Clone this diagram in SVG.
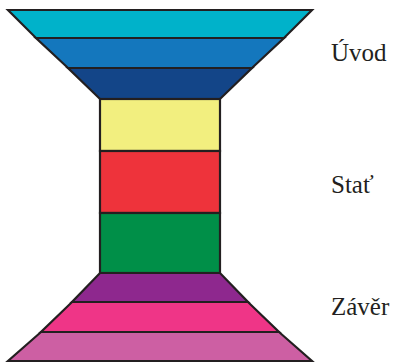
<svg xmlns="http://www.w3.org/2000/svg" width="399" height="362" viewBox="0 0 399 362">
<style>
.s{stroke:#231f20;stroke-width:2.2;stroke-linejoin:miter}
.t{font-family:"Liberation Serif","DejaVu Serif",serif;font-size:25px;fill:#231f20}
</style>
<rect width="399" height="362" fill="#ffffff"/>
<g id="uvod">
<polygon class="s" fill="#00b2ca" points="8,10 312,10 284,38 36,38"/>
<polygon class="s" fill="#1477bd" points="36,38 284,38 252,68 68,68"/>
<polygon class="s" fill="#134588" points="68,68 252,68 220,99 100,99"/>
<text class="t" x="331" y="61">Úvod</text>
</g>
<g id="stat">
<rect class="s" fill="#f2ef7f" x="100" y="99" width="120" height="52"/>
<rect class="s" fill="#ee333b" x="100" y="151" width="120" height="62"/>
<rect class="s" fill="#008f48" x="100" y="213" width="120" height="60"/>
<text class="t" x="331" y="193">Stať</text>
</g>
<g id="zaver">
<polygon class="s" fill="#8e288e" points="100,273 220,273 248,302 72,302"/>
<polygon class="s" fill="#ef3587" points="72,302 248,302 279,332 41,332"/>
<polygon class="s" fill="#cd5fa3" points="41,332 279,332 312,361 8,361"/>
<text class="t" x="331" y="315">Závěr</text>
</g>
<g id="connectors"/>
</svg>
